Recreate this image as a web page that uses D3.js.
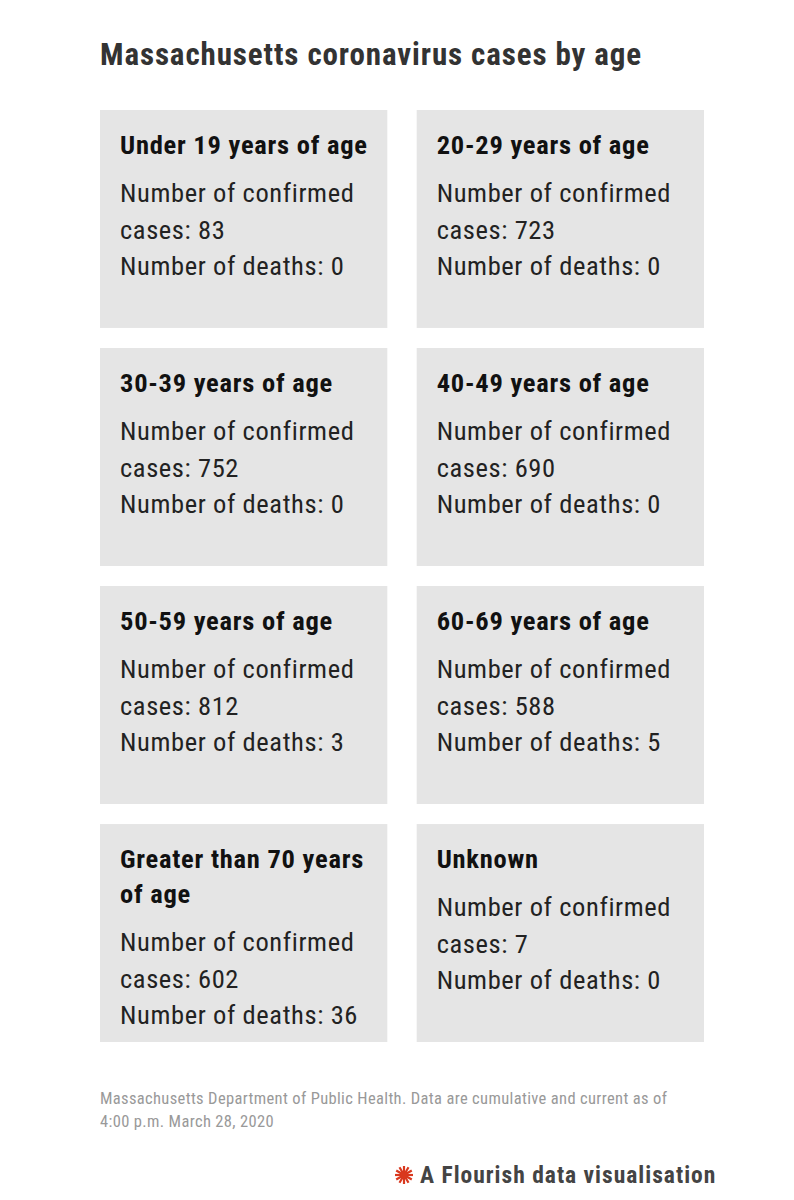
<!DOCTYPE html>
<html><head><meta charset="utf-8">
<script src="https://cdn.jsdelivr.net/npm/d3@7"></script>
<style>body{margin:0;background:#fff;}</style>
</head><body>
<svg id="c" width="794" height="1200"></svg>
<script>
const titles = [["Under 19 years of age"],["20-29 years of age"],["30-39 years of age"],["40-49 years of age"],["50-59 years of age"],["60-69 years of age"],["Greater than 70 years","of age"],["Unknown"]];
const cases = [83,723,752,690,812,588,602,7];
const deaths = [0,0,0,0,3,5,36,0];
const font = "'Liberation Sans Narrow','Roboto Condensed','Roboto',sans-serif";
const svg = d3.select("#c");
svg.append("text").attr("x",100).attr("y",65).attr("font-family",font).attr("font-weight","bold")
  .attr("font-size",31).attr("letter-spacing",0.9).attr("fill","#333").text("Massachusetts coronavirus cases by age");
const x = d3.scaleBand().domain([0,1]).range([100,704]).paddingInner(0.0927);
const y = d3.scaleBand().domain([0,1,2,3]).range([110,1042]).paddingInner(0.0843);
const data = titles.map((t,i)=>({t,c:cases[i],d:deaths[i],col:i%2,row:Math.floor(i/2)}));
const g = svg.selectAll("g.card").data(data).join("g").attr("class","card")
  .attr("transform",d=>`translate(${x(d.col)},${y(d.row)})`);
g.append("rect").attr("width",x.bandwidth()).attr("height",y.bandwidth()).attr("fill","#e5e5e5");
g.each(function(d){
  const s=d3.select(this); let yy=44;
  d.t.forEach((l,k)=>{s.append("text").attr("x",20).attr("y",yy+k*35).attr("font-family",font)
    .attr("font-weight","bold").attr("font-size",26.5).attr("letter-spacing",0.75).attr("fill","#111").text(l);});
  yy += (d.t.length-1)*35 + 48;
  ["Number of confirmed","cases: "+d.c,"Number of deaths: "+d.d].forEach((l,k)=>{
    s.append("text").attr("x",20).attr("y",yy+k*36.5).attr("font-family",font)
    .attr("font-size",26.5).attr("letter-spacing",0.6).attr("fill","#222").text(l);});
});
["Massachusetts Department of Public Health. Data are cumulative and current as of","4:00 p.m. March 28, 2020"].forEach((l,k)=>{
  svg.append("text").attr("x",100).attr("y",1104+k*23).attr("font-family",font).attr("font-size",16.5)
   .attr("letter-spacing",0.35).attr("fill","#999").text(l);});
const lg = svg.append("g").attr("transform","translate(404,1175)");
d3.range(12).forEach(i=>{const a=i*Math.PI/6;
  lg.append("line").attr("x1",0).attr("y1",0).attr("x2",9*Math.cos(a)).attr("y2",9*Math.sin(a))
  .attr("stroke","#d9381e").attr("stroke-width",2.2);});
lg.append("circle").attr("r",4).attr("fill","#d9381e");
svg.append("text").attr("x",420).attr("y",1183).attr("font-family",font).attr("font-weight","bold")
  .attr("font-size",23.5).attr("letter-spacing",1).attr("fill","#444").text("A Flourish data visualisation");
</script></body></html>
